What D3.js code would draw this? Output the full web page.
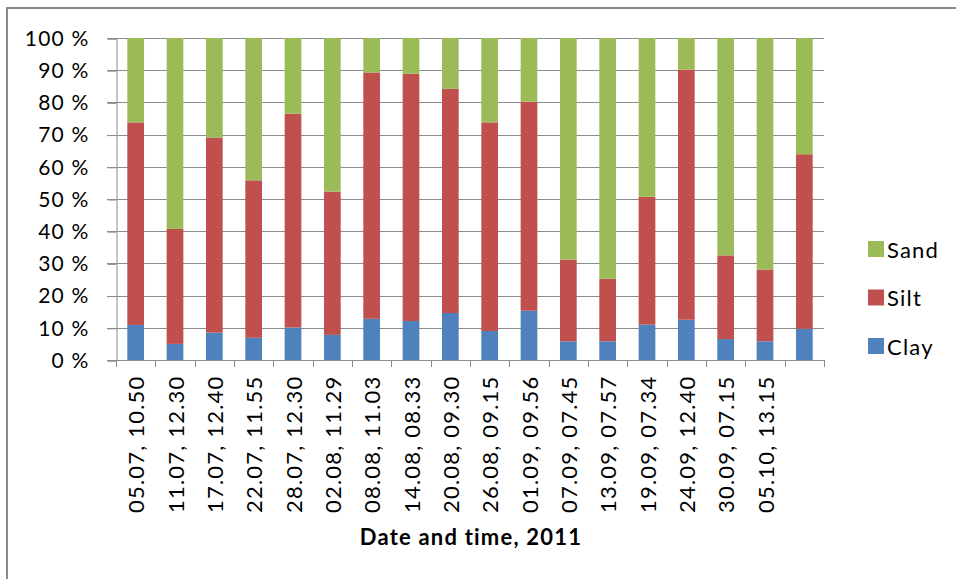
<!DOCTYPE html>
<html>
<head>
<meta charset="utf-8">
<script src="https://cdn.jsdelivr.net/npm/d3@7/dist/d3.min.js"></script>
<style>
  html, body { margin: 0; padding: 0; background: #fff; }
  svg { display: block; }
  text { font-family: Lato, "Open Sans", "Liberation Sans", sans-serif; fill: #000; letter-spacing: 1.2px; }
</style>
</head>
<body>
<svg id="chart" width="956" height="579"></svg>
<script>
// Sampling dates (dd.mm, hh.mm), 2011; the last sample carries no label
const categories = [
  "05.07, 10.50", "11.07, 12.30", "17.07, 12.40", "22.07, 11.55", "28.07, 12.30",
  "02.08, 11.29", "08.08, 11.03", "14.08, 08.33", "20.08, 09.30", "26.08, 09.15",
  "01.09, 09.56", "07.09, 07.45", "13.09, 07.57", "19.09, 07.34", "24.09, 12.40",
  "30.09, 07.15", "05.10, 13.15", ""
];

// Grain-size fractions, % of sample
const clay = [10.9, 5.0, 8.5, 6.9, 10.1, 7.8, 12.8, 12.1, 14.6, 9.0, 15.3, 5.8, 5.8, 11.0, 12.5, 6.5, 5.8, 9.7];
const silt = [62.9, 35.7, 60.6, 48.9, 66.4, 44.5, 76.5, 76.8, 69.6, 64.8, 64.9, 25.4, 19.4, 39.7, 77.7, 26.0, 22.3, 54.2];
const sand = [26.2, 59.3, 30.9, 44.2, 23.5, 47.7, 10.7, 11.1, 15.8, 26.2, 19.8, 68.8, 74.8, 49.3, 9.8, 67.5, 71.9, 36.1];

const seriesNames = ["Clay", "Silt", "Sand"];
const seriesColors = ["#4F81BD", "#C0504D", "#9BBB59"];
const yTicks = [0, 10, 20, 30, 40, 50, 60, 70, 80, 90, 100];
const xTitle = "Date and time, 2011";

const rows = categories.map((c, i) => ({ key: i, label: c, Clay: clay[i], Silt: silt[i], Sand: sand[i] }));

const svg = d3.select("#chart");
const plot = { left: 116, right: 824, top: 38, bottom: 360 };

// Chart-area frame
svg.append("rect")
  .attr("x", 7).attr("y", 8).attr("width", 1000).attr("height", 1000)
  .attr("fill", "none").attr("stroke", "#8a8a8a").attr("stroke-width", 2);

const x = d3.scaleBand()
  .domain(rows.map(d => d.key))
  .range([plot.left, plot.right])
  .paddingInner(0.575)
  .paddingOuter(0.2875);

const y = d3.scaleLinear().domain([0, 100]).range([plot.bottom, plot.top]);

// Horizontal gridlines
svg.append("g")
  .selectAll("line")
  .data(yTicks)
  .join("line")
  .attr("x1", plot.left - 9).attr("x2", plot.right)
  .attr("y1", d => Math.round(y(d)) + 0.5).attr("y2", d => Math.round(y(d)) + 0.5)
  .attr("stroke", "#8c8c8c").attr("stroke-width", 1);

// Stacked bars
const stack = d3.stack().keys(seriesNames);
const layers = stack(rows);
svg.append("g")
  .selectAll("g")
  .data(layers)
  .join("g")
  .attr("fill", (d, i) => seriesColors[i])
  .selectAll("rect")
  .data(d => d)
  .join("rect")
  .attr("x", d => x(d.data.key))
  .attr("width", x.bandwidth())
  .attr("y", d => y(d[1]))
  .attr("height", d => y(d[0]) - y(d[1]));

// Y axis
const yAxis = d3.axisLeft(y)
  .tickValues(yTicks)
  .tickSize(9)
  .tickPadding(18)
  .tickFormat(d => d + " %");
const gy = svg.append("g")
  .attr("transform", `translate(${plot.left + 0.5},0.5)`)
  .call(yAxis);
gy.select(".domain").attr("stroke", "#8c8c8c");
gy.selectAll(".tick line").attr("stroke", "#8c8c8c");
gy.selectAll(".tick text")
  .attr("font-size", 21)
  .attr("font-family", "Lato, sans-serif")
  .attr("letter-spacing", "1.2px")
  .attr("fill", "#000");

// X axis: tick marks sit on category boundaries
const step = x.step();
const boundaries = d3.range(rows.length + 1).map(i => plot.left + i * step);
const gx = svg.append("g");
gx.append("line")
  .attr("x1", plot.left).attr("x2", plot.right)
  .attr("y1", plot.bottom + 0.5).attr("y2", plot.bottom + 0.5)
  .attr("stroke", "#8c8c8c");
gx.selectAll("line.tick")
  .data(boundaries)
  .join("line")
  .attr("class", "tick")
  .attr("x1", d => Math.round(d) + 0.5).attr("x2", d => Math.round(d) + 0.5)
  .attr("y1", plot.bottom).attr("y2", plot.bottom + 7)
  .attr("stroke", "#8c8c8c");

gx.selectAll("text")
  .data(rows)
  .join("text")
  .attr("transform", d => `translate(${x(d.key) + x.bandwidth() / 2},${plot.bottom + 15.5}) rotate(-90)`)
  .attr("text-anchor", "end")
  .attr("dominant-baseline", "central")
  .attr("font-size", 22)
  .text(d => d.label);

// Axis title
svg.append("text")
  .attr("x", (plot.left + plot.right) / 2 + 1)
  .attr("y", 545)
  .attr("text-anchor", "middle")
  .attr("font-size", 22)
  .attr("font-weight", "bold")
  .text(xTitle);

// Legend, top entry is the top of the stack
const legendItems = seriesNames.map((n, i) => ({ name: n, color: seriesColors[i] })).reverse();
const lg = svg.append("g").attr("transform", "translate(868,241)");
const item = lg.selectAll("g")
  .data(legendItems)
  .join("g")
  .attr("transform", (d, i) => `translate(0,${i * 48.5})`);
item.append("rect")
  .attr("width", 16).attr("height", 16)
  .attr("fill", d => d.color);
item.append("text")
  .attr("x", 19).attr("y", 8)
  .attr("dominant-baseline", "central")
  .attr("font-size", 22)
  .text(d => d.name);
</script>
</body>
</html>
